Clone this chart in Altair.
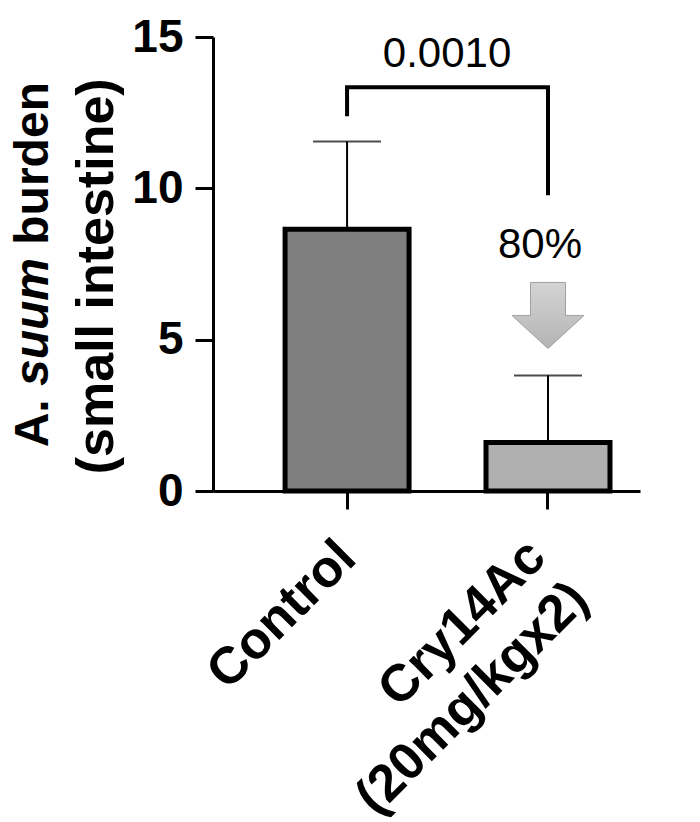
import altair as alt
import pandas as pd

# ---- data ----
categories = ["Control", "Cry14Ac|(20mg/kgx2)"]
means = [8.65, 1.6]
upper = [11.55, 3.82]
bar_fills = ["#7f7f7f", "#b0b0b0"]

bracket_cat = ["Control", "Control", "Cry14Ac|(20mg/kgx2)", "Cry14Ac|(20mg/kgx2)"]
bracket_y = [12.38, 13.34, 13.34, 9.77]
bracket_order = [0, 1, 2, 3]

p_label = ["0.0010"]
p_label_y = [14.0]
pct_label = ["80%"]
pct_label_y = [7.7]
arrow_y = [5.8]

y_ticks = [0, 5, 10, 15]

FONT = "Liberation Sans"

df = pd.DataFrame({"cat": categories, "mean": means, "upper": upper})
df_br = pd.DataFrame({"cat": bracket_cat, "y": bracket_y, "o": bracket_order})
df_p = pd.DataFrame({"cat": [categories[0]], "y": p_label_y, "t": p_label})
df_pct = pd.DataFrame({"cat": [categories[1]], "y": pct_label_y, "t": pct_label})
df_arrow = pd.DataFrame({"cat": [categories[1]], "y": arrow_y})

xscale = alt.Scale(domain=categories, paddingInner=0.383, paddingOuter=0.254, align=0.706)
yscale = alt.Scale(domain=[0, 15], nice=False, zero=True)

is_ctrl = "datum.value == 'Control'"
x_enc = alt.X("cat:N", scale=xscale, sort=categories,
              axis=alt.Axis(title=None, labelAngle=-45, labelAlign="right",
                            labelBaseline="middle",
                            labelPadding={"condition": {"test": is_ctrl, "value": 40}, "value": 39},
                            labelOffset={"condition": {"test": is_ctrl, "value": 0}, "value": -11},
                            labelExpr="split(datum.label, '|')", labelLineHeight=60,
                            labelFontSize=52, labelLimit=0))
y_enc = alt.Y("mean:Q", scale=yscale,
              axis=alt.Axis(title=None, values=y_ticks, labelPadding=12, labelFontSize=46))

bars = alt.Chart(df).mark_bar(stroke="black", strokeWidth=5).encode(
    x=x_enc,
    y=y_enc,
    fill=alt.Fill("cat:N", scale=alt.Scale(domain=categories, range=bar_fills), legend=None),
)

err = alt.Chart(df).mark_rule(color="black", strokeWidth=2).encode(
    x=alt.X("cat:N", scale=xscale, sort=categories),
    y=alt.Y("mean:Q", scale=yscale),
    y2="upper:Q",
)
caps = alt.Chart(df).mark_tick(color="black", thickness=2, size=68).encode(
    x=alt.X("cat:N", scale=xscale, sort=categories),
    y=alt.Y("upper:Q", scale=yscale),
)

bracket = alt.Chart(df_br).mark_line(color="black", strokeWidth=4, strokeJoin="miter").encode(
    x=alt.X("cat:N", scale=xscale, sort=categories),
    y=alt.Y("y:Q", scale=yscale),
    order="o:Q",
)

ptext = alt.Chart(df_p).mark_text(font=FONT, fontSize=42, align="center",
                                  baseline="alphabetic", dx=100, color="black").encode(
    x=alt.X("cat:N", scale=xscale, sort=categories),
    y=alt.Y("y:Q", scale=yscale),
    text="t:N",
)
pcttext = alt.Chart(df_pct).mark_text(font=FONT, fontSize=42, align="center",
                                      baseline="alphabetic", dx=-8, color="black").encode(
    x=alt.X("cat:N", scale=xscale, sort=categories),
    y=alt.Y("y:Q", scale=yscale),
    text="t:N",
)

arrow_path = "M -0.486 -0.917 L 0.486 -0.917 L 0.486 0 L 1 0 L 0 0.917 L -1 0 L -0.486 0 Z"
grad = alt.LinearGradient(gradient="linear",
                          stops=[alt.GradientStop(color="#d4d4d4", offset=0),
                                 alt.GradientStop(color="#b4b4b4", offset=1)],
                          x1=0, x2=0, y1=0, y2=1)
arrow = alt.Chart(df_arrow).mark_point(shape=arrow_path, size=5184, filled=True, fill=grad,
                                       stroke="#a0a0a0", strokeWidth=1, opacity=1).encode(
    x=alt.X("cat:N", scale=xscale, sort=categories),
    y=alt.Y("y:Q", scale=yscale),
)

# y-axis title pieces (mixed italic)
t1 = pd.DataFrame({"t": ["A."]})
t2 = pd.DataFrame({"t": ["suum"]})
t3 = pd.DataFrame({"t": ["burden"]})
t4 = pd.DataFrame({"t": ["(small intestine)"]})

def title_piece(d, x, y, style="normal", size=48, align="left"):
    return alt.Chart(d).mark_text(font=FONT, fontSize=size, fontWeight="bold", fontStyle=style,
                                  angle=270, align=align, baseline="alphabetic",
                                  color="black").encode(
        x=alt.value(x), y=alt.value(y), text="t:N")

title_layers = [
    title_piece(t1, -165, 410.3),
    title_piece(t2, -165, 349.0, style="italic"),
    title_piece(t3, -165, 207.7),
    title_piece(t4, -100.5, 239.3, size=52, align="center"),
]

chart = alt.layer(bars, err, caps, bracket, ptext, pcttext, arrow, *title_layers).properties(
    width=427, height=454,
    padding={"left": 205, "top": 29, "right": 40, "bottom": 331},
    autosize="none",
).configure_view(stroke=None).configure_axis(
    domainColor="black", domainWidth=3, tickColor="black", tickWidth=3, tickSize=18,
    labelFont=FONT, labelFontWeight="bold", labelColor="black", grid=False,
)

chart.save("out.html", embed_options={"renderer": "svg", "actions": False})
